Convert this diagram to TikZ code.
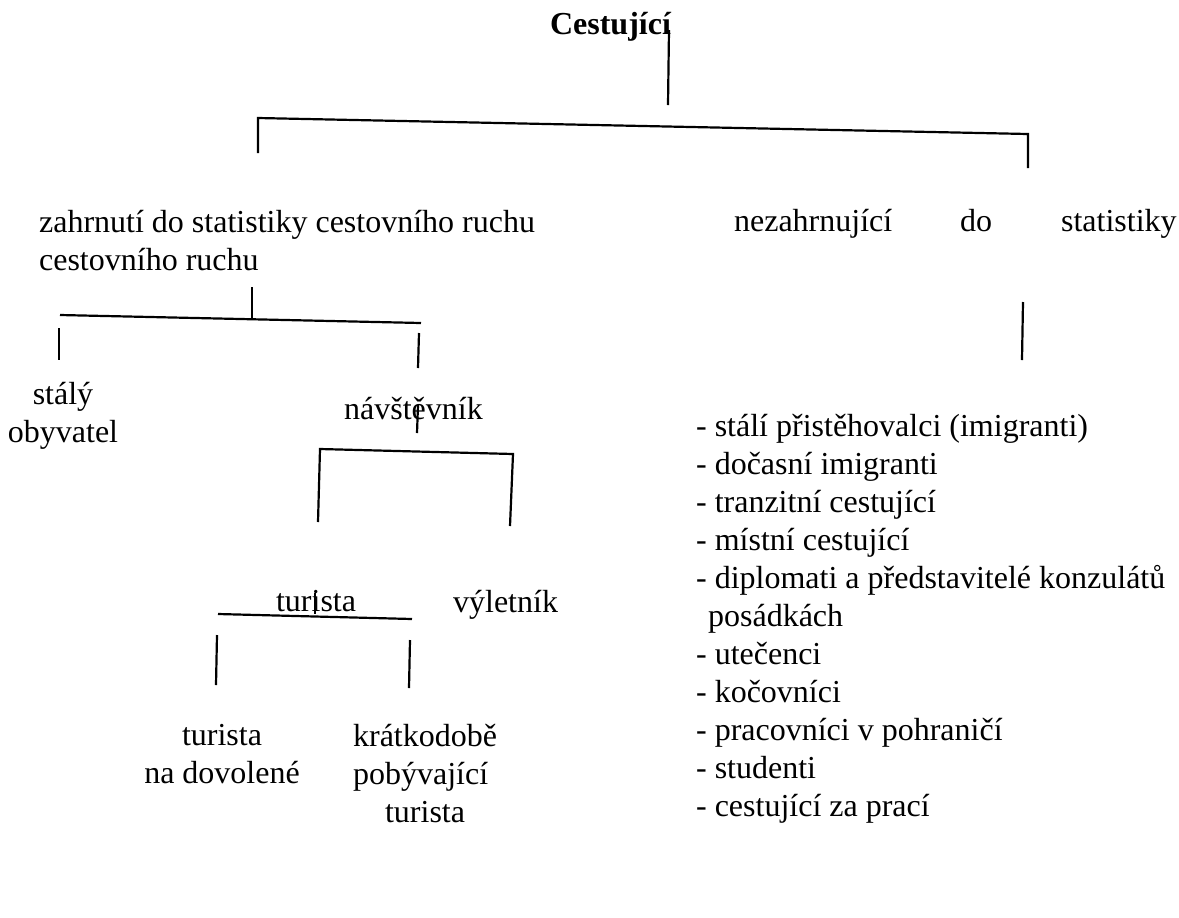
\documentclass[tikz,border=0pt]{standalone}
\usepackage{fontspec}
\setmainfont{Liberation Serif}

\begin{document}
\begin{tikzpicture}[x=0.5pt, y=-0.5pt, line width=1.1pt,
    nodes={inner sep=0pt, font=\fontsize{16}{19}\selectfont},
    word/.style={anchor=base west},
    twoline/.style={anchor=base, align=center}]

    \useasboundingbox (0,0) rectangle (1179,917);

    \node[anchor=base east, font=\fontsize{16}{19}\selectfont\bfseries] (cestujici) at (672,34) {Cestující};

    \node[word, align=left] (zahrnuti) at (38,270) {zahrnutí do statistiky cestovního ruchu\\cestovního ruchu};
    \node[word] (nezahrnujici) at (733,231) {nezahrnující};
    \node[word] (do) at (959,231) {do};
    \node[word] (statistiky) at (1060,231) {statistiky};

    \node[twoline] (staly) at (63,442) {stálý\\obyvatel};
    \node[word] (navstevnik) at (343,419) {návštěvník};

    \node[word] (turista) at (275,611) {turista};
    \node[word] (vyletnik) at (452,612) {výletník};

    \node[twoline] (dovolena) at (222,783) {turista\\na dovolené};
    \node[word, align=left] (kratkodobe) at (352,822) {krátkodobě\\pobývající\\\hspace*{16pt}turista};

    \node[word, align=left] (ostatni) at (695,816) {- stálí přistěhovalci (imigranti)\\
        - dočasní imigranti\\
        - tranzitní cestující\\
        - místní cestující\\
        - diplomati a představitelé konzulátů\\
        \hspace*{6pt}posádkách\\
        - utečenci\\
        - kočovníci\\
        - pracovníci v pohraničí\\
        - studenti\\
        - cestující za prací};

    \coordinate (c0) at (669,30);
    \coordinate (c1) at (668,105);
    \coordinate (a0) at (258,153);
    \coordinate (a1) at (258,118);
    \coordinate (a2) at (1028,134);
    \coordinate (a3) at (1028,168);
    \draw (c0) -- (c1);
    \draw (a0) -- (a1) -- (a2) -- (a3);

    \coordinate (z0) at (252,287);
    \coordinate (z1) at (252,318);
    \coordinate (b1) at (60,315);
    \coordinate (b2) at (421,323);
    \draw (z0) -- (z1);
    \draw (b1) -- (b2);
    \draw (59,328) coordinate (s0) -- (59,360) coordinate (s1);
    \draw (419,333) coordinate (v0) -- (418,368) coordinate (v1);

    \draw (1023,302) coordinate (n0) -- (1022,360) coordinate (n1);

    \draw (418,405) coordinate (w0) -- (417,433) coordinate (w1);
    \coordinate (k0) at (318,522);
    \coordinate (k1) at (320,449);
    \coordinate (k2) at (513,454);
    \coordinate (k3) at (510,526);
    \draw (k0) -- (k1) -- (k2) -- (k3);

    \draw (315,593) coordinate (u0) -- (315,614) coordinate (u1);
    \draw (218,614) coordinate (t0) -- (412,619) coordinate (t1);
    \draw (217,635) coordinate (d0) -- (216,685) coordinate (d1);
    \draw (410,640) coordinate (p0) -- (409,688) coordinate (p1);

\end{tikzpicture}
\end{document}
